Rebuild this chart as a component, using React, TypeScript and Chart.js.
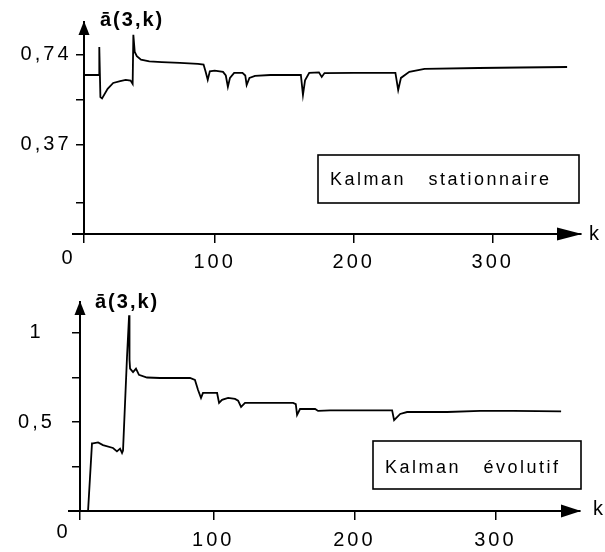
import React, { useEffect, useRef } from "react";
import { Chart, registerables } from "chart.js";

Chart.register(...registerables);

// ---- data ----
const topK = [6, 17, 17, 17.8, 19, 23, 27, 32, 36, 39.5, 41, 41.5, 42.5, 44, 47, 53, 62, 75, 88, 92, 93.5, 95, 96.5, 100, 106, 108, 109.5, 111, 114, 120, 122, 123, 125, 129, 140, 162, 163.5, 165, 168, 175, 177, 179, 200, 230, 232, 234, 240, 251, 290, 320, 353.5];
const topA = [0.657, 0.657, 0.773, 0.566, 0.56, 0.6, 0.624, 0.632, 0.637, 0.634, 0.62, 0.823, 0.752, 0.735, 0.72, 0.713, 0.71, 0.707, 0.703, 0.7, 0.67, 0.637, 0.672, 0.675, 0.67, 0.655, 0.608, 0.645, 0.666, 0.666, 0.655, 0.616, 0.645, 0.653, 0.657, 0.657, 0.575, 0.635, 0.666, 0.668, 0.649, 0.665, 0.666, 0.666, 0.595, 0.645, 0.67, 0.682, 0.686, 0.688, 0.69];

const bottomK = [5.5, 11.2, 14, 14.7, 18.3, 21.8, 28.9, 31.7, 33.9, 35.3, 36, 38.8, 40.3, 40.6, 41, 43.1, 45.2, 47.3, 53, 62.2, 83.5, 87, 89.2, 91.3, 92.7, 102.7, 104.1, 106.2, 110.5, 115.4, 117.6, 119.7, 122.5, 156.6, 158.5, 159.4, 161.5, 172.2, 174.3, 182.8, 226.8, 228.2, 232.5, 237.4, 265.8, 289.2, 312.6, 346.6];
const bottomA = [0, 0, 0.38, 0.38, 0.385, 0.37, 0.354, 0.335, 0.35, 0.326, 0.34, 0.86, 1.1, 0.85, 0.8, 0.78, 0.8, 0.765, 0.75, 0.747, 0.747, 0.736, 0.68, 0.635, 0.663, 0.663, 0.607, 0.624, 0.635, 0.63, 0.62, 0.585, 0.607, 0.607, 0.6, 0.54, 0.573, 0.573, 0.562, 0.565, 0.565, 0.51, 0.545, 0.556, 0.556, 0.562, 0.562, 0.56];

const xTickValues = [100, 200, 300];
const xTickLabels = ["100", "200", "300"];
const topYTicks = [0, 0.13, 0.37, 0.555, 0.74];
const topYLabels = ["", "", "0,37", "", "0,74"];
const bottomYTicks = [0, 0.25, 0.5, 0.75, 1];
const bottomYLabels = ["", "", "0,5", "", "1"];
const yTitle = "ā(3,k)";
const xTitle = "k";
const originLabel = "0";
const topLegend = "Kalman   stationnaire";
const bottomLegend = "Kalman   évolutif";

const FONT = '"Liberation Sans", Arial, Helvetica, sans-serif';

type PanelCfg = {
  height: number;
  ks: number[];
  vals: number[];
  xMin: number;
  xMax: number;
  yMax: number;
  yTicks: number[];
  yLabels: string[];
  yWidth: number;
  xHeight: number;
  padTop: number;
  padRight: number;
  yTickPad: number;
  xTickPad: number;
  title: { x: number; y: number };
  kPos: { x: number; y: number };
  zero: { x: number; y: number };
  box: { x: number; y: number; w: number; h: number; ty: number };
  legend: string;
  arrowLen: number;
};

const panels: PanelCfg[] = [
  {
    height: 280,
    ks: topK,
    vals: topA,
    xMin: 6,
    xMax: 363.5,
    yMax: 0.876,
    yTicks: topYTicks,
    yLabels: topYLabels,
    yWidth: 84,
    xHeight: 46,
    padTop: 22,
    padRight: 24,
    yTickPad: 10.5,
    xTickPad: 7.5,
    title: { x: 100, y: 20 },
    kPos: { x: 589, y: 234 },
    zero: { x: 68, y: 258 },
    box: { x: 318, y: 155, w: 261, h: 48, ty: 180 },
    legend: topLegend,
    arrowLen: 24,
  },
  {
    height: 272,
    ks: bottomK,
    vals: bottomA,
    xMin: 5.5,
    xMax: 360,
    yMax: 1.174,
    yTicks: bottomYTicks,
    yLabels: bottomYLabels,
    yWidth: 80,
    xHeight: 41,
    padTop: 22,
    padRight: 25,
    yTickPad: 21.6,
    xTickPad: 8,
    title: { x: 95, y: 22 },
    kPos: { x: 593, y: 229.5 },
    zero: { x: 63, y: 252 },
    box: { x: 373, y: 161, w: 208, h: 48, ty: 188 },
    legend: bottomLegend,
    arrowLen: 19,
  },
];

function makeDecor(p: PanelCfg) {
  return {
    id: "decor",
    beforeDraw(chart: any) {
      chart.ctx.letterSpacing = "3px";
    },
    afterDraw(chart: any) {
      const ctx = chart.ctx as CanvasRenderingContext2D;
      const a = chart.chartArea;
      ctx.save();
      ctx.fillStyle = "#000";
      ctx.strokeStyle = "#000";
      // y-axis arrow head
      ctx.beginPath();
      ctx.moveTo(a.left, a.top - 1);
      ctx.lineTo(a.left - 5.5, a.top + 13);
      ctx.lineTo(a.left + 5.5, a.top + 13);
      ctx.closePath();
      ctx.fill();
      // x-axis arrow head
      ctx.beginPath();
      ctx.moveTo(a.right + 1, a.bottom);
      ctx.lineTo(a.right - p.arrowLen, a.bottom - 6.5);
      ctx.lineTo(a.right - p.arrowLen, a.bottom + 6.5);
      ctx.closePath();
      ctx.fill();
      // x-axis extends a little left of origin
      ctx.lineWidth = 2;
      ctx.beginPath();
      ctx.moveTo(a.left - 12, a.bottom);
      ctx.lineTo(a.left, a.bottom);
      ctx.stroke();
      // texts
      ctx.textBaseline = "middle";
      ctx.textAlign = "left";
      (ctx as any).letterSpacing = "2px";
      ctx.font = `bold 20px ${FONT}`;
      ctx.fillText(yTitle, p.title.x, p.title.y);
      ctx.font = `20px ${FONT}`;
      ctx.fillText(xTitle, p.kPos.x, p.kPos.y);
      ctx.textAlign = "center";
      ctx.fillText(originLabel, p.zero.x, p.zero.y);
      // legend box
      ctx.lineWidth = 1.6;
      ctx.strokeRect(p.box.x, p.box.y, p.box.w, p.box.h);
      ctx.textAlign = "left";
      (ctx as any).letterSpacing = "2.5px";
      ctx.font = `18px ${FONT}`;
      ctx.fillText(p.legend, p.box.x + 12, p.box.ty);
      ctx.restore();
    },
  };
}

function Panel({ cfg }: { cfg: PanelCfg }) {
  const ref = useRef<HTMLCanvasElement>(null);
  useEffect(() => {
    const canvas = ref.current;
    if (!canvas) return;
    const data = cfg.ks.map((k, i) => ({ x: k, y: cfg.vals[i] }));
    const chart = new Chart(canvas, {
      type: "line",
      data: {
        datasets: [
          {
            data,
            borderColor: "#000",
            borderWidth: 1.8,
            pointRadius: 0,
            fill: false,
            tension: 0,
          },
        ],
      },
      options: {
        animation: false,
        responsive: false,
        devicePixelRatio: 1,
        events: [],
        layout: { padding: { top: cfg.padTop, right: cfg.padRight, left: 0, bottom: 0 } },
        plugins: { legend: { display: false }, tooltip: { enabled: false }, title: { display: false } },
        scales: {
          x: {
            type: "linear",
            min: cfg.xMin,
            max: cfg.xMax,
            afterBuildTicks: (scale: any) => {
              scale.ticks = [cfg.xMin, ...xTickValues].map((v) => ({ value: v }));
            },
            afterFit: (scale: any) => {
              scale.height = cfg.xHeight;
              scale.paddingLeft = 0;
              scale.paddingRight = 0;
              scale.paddingTop = 0;
              scale.paddingBottom = 0;
            },
            ticks: {
              autoSkip: false,
              maxRotation: 0,
              minRotation: 0,
              padding: cfg.xTickPad,
              color: "#000",
              font: { family: FONT, size: 20 },
              callback: (_v: any, i: number) => (i === 0 ? "" : xTickLabels[i - 1]),
            },
            grid: { drawOnChartArea: false, drawTicks: true, tickLength: 9, color: "#000", lineWidth: 1.5 },
            border: { display: true, color: "#000", width: 2 },
          },
          y: {
            type: "linear",
            min: 0,
            max: cfg.yMax,
            afterBuildTicks: (scale: any) => {
              scale.ticks = cfg.yTicks.map((v) => ({ value: v }));
            },
            afterFit: (scale: any) => {
              scale.width = cfg.yWidth;
              scale.paddingLeft = 0;
              scale.paddingRight = 0;
              scale.paddingTop = 0;
              scale.paddingBottom = 0;
            },
            ticks: {
              autoSkip: false,
              crossAlign: "center",
              padding: cfg.yTickPad,
              color: "#000",
              font: { family: FONT, size: 20 },
              callback: (_v: any, i: number) => cfg.yLabels[i],
            },
            grid: { drawOnChartArea: false, drawTicks: true, tickLength: 8, color: "#000", lineWidth: 1.5 },
            border: { display: true, color: "#000", width: 2 },
          },
        },
      } as any,
      plugins: [makeDecor(cfg)],
    });
    return () => chart.destroy();
  }, [cfg]);
  return (
    <canvas
      ref={ref}
      width={605}
      height={cfg.height}
      style={{ display: "block", width: 605, height: cfg.height }}
    />
  );
}

export default function App() {
  return (
    <div style={{ position: "absolute", left: 0, top: 0, width: 605, height: 552, background: "#fff" }}>
      {panels.map((p, i) => (
        <Panel key={i} cfg={p} />
      ))}
    </div>
  );
}
